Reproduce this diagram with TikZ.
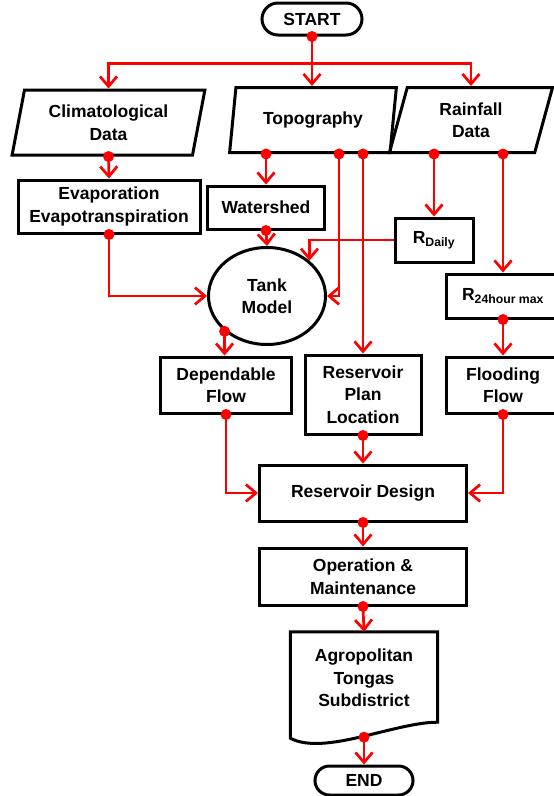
\documentclass[tikz,border=0pt]{standalone}
\usepackage{fontspec}
\setmainfont{Liberation Sans}
\usetikzlibrary{shapes.geometric,shapes.misc,arrows.meta}

\tikzset{
  frame/.style={draw,line width=3pt},
  box/.style={frame,rectangle,inner sep=0pt,align=center},
  datain/.style={frame,trapezium,trapezium left angle=76,trapezium right angle=104,
    trapezium stretches=true,inner sep=0pt,align=center},
  terminal/.style={frame,rounded rectangle,inner sep=0pt},
  flow/.style={red,line width=2.7pt,-{Straight Barb[length=10pt,width=17pt]}},
  dot/.style={circle,fill=red,inner sep=0pt,minimum size=11pt}
}

\begin{document}
\begin{tikzpicture}[x=1pt,y=-1pt,font=\fontsize{17.5}{22.5}\selectfont\bfseries]
\useasboundingbox (0,0) rectangle (554,796);

\node[terminal,minimum width=100pt,minimum height=32pt] (start) at (312,19) {START};
\node[datain,minimum width=193pt,minimum height=65pt] (clim) at (108.5,122.5) {Climatological\\Data};
\node[datain,minimum width=167pt,minimum height=65pt] (topo) at (313,120) {Topography};
\node[datain,minimum width=164pt,minimum height=65pt] (rain) at (471,120) {Rainfall\\Data};
\node[box,minimum width=182pt,minimum height=53pt] (evap) at (109,206.5) {Evaporation\\Evapotranspiration};
\node[box,minimum width=117pt,minimum height=43pt] (water) at (266,207.5) {Watershed};
\node[box,minimum width=78pt,minimum height=44pt] (rdaily) at (434,240) {R\textsubscript{Daily}};
\node[frame,ellipse,inner sep=0pt,align=center,minimum width=117pt,minimum height=97pt] (tank) at (267,296) {Tank\\Model};
\node[box,minimum width=114pt,minimum height=44pt] (r24) at (503,296) {R\textsubscript{24hour max}};
\node[box,minimum width=131pt,minimum height=56pt] (dep) at (226,385) {Dependable\\Flow};
\node[box,minimum width=116pt,minimum height=79pt] (plan) at (363,394.5) {Reservoir\\Plan\\Location};
\node[box,minimum width=114pt,minimum height=56pt] (flood) at (503,385) {Flooding\\Flow};
\node[box,minimum width=207pt,minimum height=56pt] (design) at (363,493) {Reservoir Design};
\node[box,minimum width=207pt,minimum height=57pt] (oper) at (363,576.5) {Operation \&\\Maintenance};
\node[align=center,inner sep=0pt,minimum width=147pt,minimum height=92pt] (agro) at (364,678) {Agropolitan\\Tongas\\Subdistrict};
\node[terminal,minimum width=98pt,minimum height=29pt] (end) at (364,780.5) {END};

% document outline
\draw[frame] (agro.north west) -- (agro.north east) -- ([yshift=2pt]agro.south east)
  .. controls +(-43,0) and +(34,18) .. ([yshift=-14pt]agro.south west) -- cycle;
\coordinate (agrodot) at ([yshift=-13pt]agro.south);
\coordinate (split) at ([yshift=-27pt]start.south);

\draw[flow] (start.south) node[dot]{} -- (start.south |- topo.north);
\draw[flow] (split) -| (clim.north);
\draw[flow] (split) -| (rain.north);
\draw[flow] (clim.south) node[dot]{} -- (evap.north);
\draw[flow] (topo.south -| water.north) node[dot]{} -- (water.north);
\draw[flow] ([xshift=26pt]topo.south) node[dot]{} |- (tank.east);
\draw[flow] (topo.south -| plan.north) node[dot]{} -- (plan.north);
\draw[flow] (rain.south -| rdaily.north) node[dot]{} -- (rdaily.north);
\draw[flow] (rain.south -| r24.north) node[dot]{} -- (r24.north);
\draw[flow] (evap.south) node[dot]{} |- (tank.west);
\draw[flow] (water.south) node[dot]{} -- (tank.north);
\draw[flow] (rdaily.west) -| (tank.north east);
\draw[flow] (tank.south west) node[dot]{} -- (tank.south west |- dep.north);
\draw[flow] (r24.south) node[dot]{} -- (flood.north);
\draw[flow] (dep.south) node[dot]{} |- (design.west);
\draw[flow] (plan.south) node[dot]{} -- (design.north);
\draw[flow] (flood.south) node[dot]{} |- (design.east);
\draw[flow] (design.south) node[dot]{} -- (oper.north);
\draw[flow] (oper.south) node[dot]{} -- (agro.north);
\draw[flow] (agrodot) node[dot]{} -- (end.north);
\end{tikzpicture}
\end{document}
